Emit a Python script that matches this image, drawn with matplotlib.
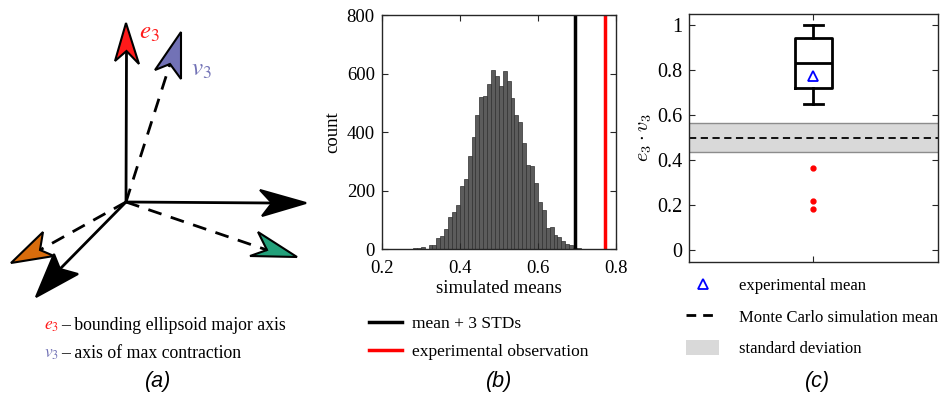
import numpy as np
import matplotlib.pyplot as plt
from matplotlib.patches import Polygon, Patch
from matplotlib.lines import Line2D

plt.rcParams['font.family'] = ['Liberation Serif', 'DejaVu Serif']
plt.rcParams['mathtext.fontset'] = 'stix'

# ---- panel (b): histogram of simulated means ----
bin_start = 0.27
bin_width = 0.01
counts = [2, 3, 5, 7, 2, 16, 15, 39, 44, 68, 110, 128, 150, 215, 239, 319,
          382, 459, 521, 524, 564, 611, 593, 557, 609, 574, 517, 460, 435,
          364, 287, 285, 227, 162, 133, 74, 76, 49, 42, 27, 19, 16, 5, 3]
mean_plus_3std = 0.694
experimental_obs = 0.771
hist_xticks = [0.2, 0.4, 0.6, 0.8]
hist_yticks = [0, 200, 400, 600, 800]

# ---- panel (c): boxplot of e3 . v3 ----
box_q1 = 0.719
box_median = 0.832
box_q3 = 0.941
whisker_lo = 0.648
whisker_hi = 1.0
outliers = [0.363, 0.218, 0.184]
exp_mean = 0.773
mc_mean = 0.50
mc_std_lo = 0.435
mc_std_hi = 0.563
box_yticks = [0, 0.2, 0.4, 0.6, 0.8, 1]
box_yticklabels = ['0', '0.2', '0.4', '0.6', '0.8', '1']

# ---- panel (a): schematic arrows, in pixel coords of the figure ----
origin = (126, 202)
arrow_heads = {
    # name: (tip, corner1, notch, corner2, face colour, dashed shaft)
    'e3':    [(126, 23), (115, 61), (126.5, 51), (139, 64), '#ff1a1a', False],
    'v3':    [(181, 32), (155, 70), (170, 64), (181, 79), '#7272b6', True],
    'x':     [(306, 203), (260, 190), (272, 203), (262, 216), 'black', False],
    'down':  [(36, 297), (54, 254), (60, 269), (78, 274), 'black', False],
    'orng':  [(11, 263), (43, 232), (40, 250), (54, 256), '#d96c0c', True],
    'green': [(297, 257), (258, 232), (267, 250), (250, 256), '#22a07a', True],
}

fig = plt.figure(figsize=(9.41, 4.05), dpi=100)

# overlay axes in pixel coordinates for the drawing and captions
ov = fig.add_axes([0, 0, 1, 1])
ov.set_xlim(0, 941)
ov.set_ylim(405, 0)
ov.axis('off')

for name, (tip, c1, notch, c2, col, dashed) in arrow_heads.items():
    ls = (0, (5, 3.5)) if dashed else '-'
    ov.plot([origin[0], notch[0]], [origin[1], notch[1]], color='black',
            lw=2, ls=ls, solid_capstyle='butt')
    ov.add_patch(Polygon([tip, c1, notch, c2], closed=True, facecolor=col,
                         edgecolor='black', lw=1.5, joinstyle='miter'))

ov.text(139, 33, r'$e_3$', color='#ff1a1a', fontsize=18, va='center')
ov.text(191, 70, r'$v_3$', color='#7272b6', fontsize=18, va='center')

ov.text(44, 326, r'$e_3$', color='#ff1a1a', fontsize=12.5, va='center')
ov.text(61, 326, '\u2013 bounding ellipsoid major axis', fontsize=12.8, va='center')
ov.text(44, 354, r'$v_3$', color='#7272b6', fontsize=12.5, va='center')
ov.text(61, 354, '\u2013 axis of max contraction', fontsize=12.8, va='center')

for lbl, xc in [('(a)', 158), ('(b)', 499), ('(c)', 817)]:
    ov.text(xc, 382, lbl, fontsize=15.5, ha='center', va='center',
            family='Liberation Sans', style='italic')

axis_col = '#262626'

# ---- panel (b) ----
axb = fig.add_axes([381.7 / 941, 1 - 249.3 / 405, 234.3 / 941, 234.3 / 405])
edges = bin_start + bin_width * np.arange(len(counts) + 1)
axb.bar(edges[:-1], counts, width=bin_width, align='edge', facecolor='#5c5c5c',
        edgecolor='#303030', lw=0.5)
axb.axvline(mean_plus_3std, color='black', lw=2.5)
axb.axvline(experimental_obs, color='#ff0000', lw=2.5)
axb.set_xlim(0.2, 0.8)
axb.set_ylim(0, 800)
axb.set_xticks(hist_xticks)
axb.set_xticklabels(['0.2', '0.4', '0.6', '0.8'])
axb.set_yticks(hist_yticks)
axb.set_xlabel('simulated means', fontsize=13.5, labelpad=2)
axb.set_ylabel('count', fontsize=13.5, labelpad=4)
axb.legend(handles=[Line2D([], [], color='black', lw=2.5),
                    Line2D([], [], color='#ff0000', lw=2.5)],
           labels=['mean + 3 STDs', 'experimental observation'],
           loc='upper left', bbox_to_anchor=(369 / 941, 1 - 316 / 405),
           bbox_transform=fig.transFigure, frameon=False, fontsize=12.5,
           borderpad=0, borderaxespad=0, handlelength=1.9, handletextpad=0.6,
           labelspacing=0.68)

# ---- panel (c) ----
axc = fig.add_axes([689.3 / 941, 1 - 261.7 / 405, 248.4 / 941, 247.7 / 405])
axc.axhspan(mc_std_lo, mc_std_hi, facecolor='#d9d9d9', edgecolor='none')
axc.axhline(mc_std_lo, color='#8c8c8c', lw=1)
axc.axhline(mc_std_hi, color='#8c8c8c', lw=1)
axc.axhline(mc_mean, color='black', lw=1.3, ls=(0, (4, 2.5)))
stats = [dict(q1=box_q1, med=box_median, q3=box_q3, whislo=whisker_lo,
              whishi=whisker_hi, fliers=outliers, mean=exp_mean)]
axc.bxp(stats, positions=[1], widths=0.152, capwidths=0.08, showmeans=True,
        boxprops=dict(color='black', lw=2),
        medianprops=dict(color='black', lw=2),
        whiskerprops=dict(color='black', lw=2),
        capprops=dict(color='black', lw=2),
        flierprops=dict(marker='o', markerfacecolor='#ff0000',
                        markeredgecolor='#ff0000', markersize=3.5),
        meanprops=dict(marker='^', markerfacecolor='none',
                       markeredgecolor='#0000ff', markersize=7, mew=1.3))
axc.set_xlim(0.5, 1.5)
axc.set_ylim(-0.052, 1.049)
axc.set_xticks([1])
axc.set_xticklabels([''])
axc.set_yticks(box_yticks)
axc.set_yticklabels(box_yticklabels)
axc.set_ylabel(r'$e_3 \cdot v_3$', fontsize=14.5, labelpad=2, math_fontfamily='cm')
axc.legend(handles=[Line2D([], [], ls='none', marker='^', markerfacecolor='none',
                           markeredgecolor='#0000ff', markersize=7, mew=1.3),
                    Line2D([], [], color='black', lw=2, ls=(0, (3.5, 2.5))),
                    Patch(facecolor='#d9d9d9', edgecolor='none')],
           labels=['experimental mean', 'Monte Carlo simulation mean',
                   'standard deviation'],
           loc='upper left', bbox_to_anchor=(686 / 941, 1 - 277 / 405),
           bbox_transform=fig.transFigure, frameon=False, fontsize=12,
           borderpad=0, borderaxespad=0, handlelength=2.0, handletextpad=1.2,
           handleheight=1.0, labelspacing=0.85)

for ax, fs in ((axb, 13.5), (axc, 14.5)):
    ax.tick_params(direction='in', top=True, right=True, length=4,
                   width=0.8, color=axis_col, labelsize=fs)
    ax.tick_params(axis='y', pad=5)
    ax.tick_params(axis='x', pad=8)
    for sp in ax.spines.values():
        sp.set_color(axis_col)
        sp.set_linewidth(1)

fig.savefig('out.png', dpi=100)
